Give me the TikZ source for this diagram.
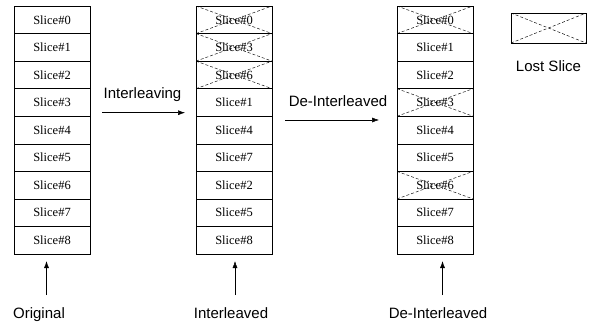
\documentclass[tikz,border=0pt]{standalone}
\usepackage{fontspec}
\setmainfont{Liberation Serif}
\setsansfont{Liberation Sans}
\newfontfamily\cellfont{Liberation Serif}
\usetikzlibrary{positioning, arrows.meta}

\tikzset{
  cell/.style={draw, minimum width=76pt, minimum height=27.56pt, inner sep=0pt, outer sep=0pt,
    font=\cellfont\fontsize{12.5}{14}\selectfont},
  lost/.style={cell, path picture={
    \draw[dashed, black!90, line width=0.5pt, dash pattern=on 3pt off 2pt]
      (path picture bounding box.north west) -- (path picture bounding box.south east)
      (path picture bounding box.south west) -- (path picture bounding box.north east);}},
  lbl/.style={font=\sffamily\fontsize{15}{17}\selectfont, inner sep=0pt, anchor=base},
  arr/.style={-{Latex[length=7pt, width=5pt]}, line width=0.5pt},
}

\begin{document}
\begin{tikzpicture}[x=1pt, y=-1pt]
\useasboundingbox (0,0) rectangle (591,322);

% original order
\node [cell] (o0) at (52,19.78) {Slice\#0};
\node [cell, below=0pt of o0] (o1) {Slice\#1};
\node [cell, below=0pt of o1] (o2) {Slice\#2};
\node [cell, below=0pt of o2] (o3) {Slice\#3};
\node [cell, below=0pt of o3] (o4) {Slice\#4};
\node [cell, below=0pt of o4] (o5) {Slice\#5};
\node [cell, below=0pt of o5] (o6) {Slice\#6};
\node [cell, below=0pt of o6] (o7) {Slice\#7};
\node [cell, below=0pt of o7] (o8) {Slice\#8};

% interleaved order, first three lost
\node [lost] (i0) at (234,19.78) {Slice\#0};
\node [lost, below=0pt of i0] (i1) {Slice\#3};
\node [lost, below=0pt of i1] (i2) {Slice\#6};
\node [cell, below=0pt of i2] (i3) {Slice\#1};
\node [cell, below=0pt of i3] (i4) {Slice\#4};
\node [cell, below=0pt of i4] (i5) {Slice\#7};
\node [cell, below=0pt of i5] (i6) {Slice\#2};
\node [cell, below=0pt of i6] (i7) {Slice\#5};
\node [cell, below=0pt of i7] (i8) {Slice\#8};

% back in order, losses spread out
\node [lost] (d0) at (435,19.78) {Slice\#0};
\node [cell, below=0pt of d0] (d1) {Slice\#1};
\node [cell, below=0pt of d1] (d2) {Slice\#2};
\node [lost, below=0pt of d2] (d3) {Slice\#3};
\node [cell, below=0pt of d3] (d4) {Slice\#4};
\node [cell, below=0pt of d4] (d5) {Slice\#5};
\node [lost, below=0pt of d5] (d6) {Slice\#6};
\node [cell, below=0pt of d6] (d7) {Slice\#7};
\node [cell, below=0pt of d7] (d8) {Slice\#8};

% legend
\node [lost, minimum width=75pt, minimum height=30pt] (key) at (548.5,28) {};
\node [lbl] (keytxt) at (548.5,71.5) {Lost Slice};

% steps between the columns
\coordinate (il1) at (102,112.7);
\coordinate (il2) at (185,112.7);
\draw[arr] (il1) -- (il2);
\node [lbl] (iltxt) at (142.5,98) {Interleaving};

\coordinate (dl1) at (285,120);
\coordinate (dl2) at (379,120);
\draw[arr] (dl1) -- (dl2);
\node [lbl] (dltxt) at (338,106) {De-Interleaved};

% captions under the columns
\node [lbl] (orig) at (39,318) {Original};
\node [lbl] (inter) at (231,318) {Interleaved};
\node [lbl] (deint) at (438,318) {De-Interleaved};

\coordinate (ot) at (46.5,295);
\coordinate (it) at (235,295);
\coordinate (dt) at (442.5,295);
\draw[arr, shorten >=7pt] (ot) -- (o8.south -| ot);
\draw[arr, shorten >=7pt] (it) -- (i8.south -| it);
\draw[arr, shorten >=7pt] (dt) -- (d8.south -| dt);
\end{tikzpicture}
\end{document}
